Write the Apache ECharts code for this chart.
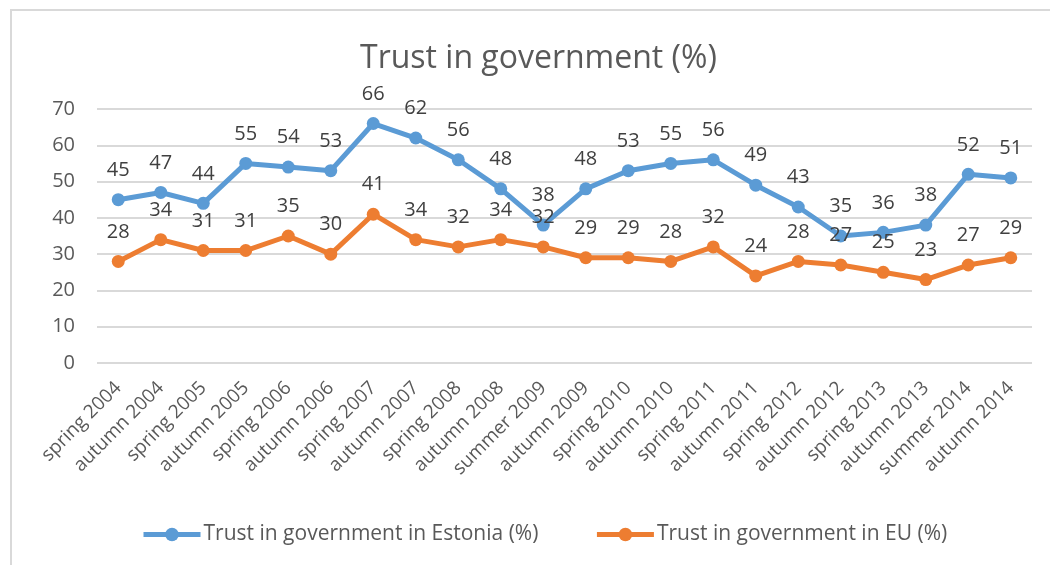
<!DOCTYPE html>
<html>
<head>
<meta charset="utf-8">
<script src="https://cdn.jsdelivr.net/npm/echarts@6/dist/echarts.min.js"></script>
<style>
  html, body { margin: 0; padding: 0; background: #ffffff; }
  #chart { width: 1050px; height: 565px; }
</style>
</head>
<body>
<div id="chart"></div>
<script>
// Survey waves
const categories = [
  'spring 2004', 'autumn 2004', 'spring 2005', 'autumn 2005', 'spring 2006',
  'autumn 2006', 'spring 2007', 'autumn 2007', 'spring 2008', 'autumn 2008',
  'summer 2009', 'autumn 2009', 'spring 2010', 'autumn 2010', 'spring 2011',
  'autumn 2011', 'spring 2012', 'autumn 2012', 'spring 2013', 'autumn 2013',
  'summer 2014', 'autumn 2014'
];

// Trust in government, percent
const estonia = [45, 47, 44, 55, 54, 53, 66, 62, 56, 48, 38, 48, 53, 55, 56, 49, 43, 35, 36, 38, 52, 51];
const eu = [28, 34, 31, 31, 35, 30, 41, 34, 32, 34, 32, 29, 29, 28, 32, 24, 28, 27, 25, 23, 27, 29];

const seriesNames = ['Trust in government in Estonia (%)', 'Trust in government in EU (%)'];
const yTicks = { min: 0, max: 70, interval: 10 };

const FONT = '"Open Sans", "Liberation Sans", sans-serif';
const TEXT = '#595959';
const COLORS = ['#5b9bd5', '#ed7d31'];

const chart = echarts.init(document.getElementById('chart'), null, { renderer: 'canvas' });

function lineSeries(name, values, color) {
  return {
    name: name,
    type: 'line',
    data: values,
    symbol: 'circle',
    symbolSize: 13,
    lineStyle: { width: 5, color: color },
    itemStyle: { color: color },
    label: {
      show: true,
      position: 'top',
      distance: 13,
      color: '#404040',
      fontSize: 20,
      fontFamily: FONT
    },
    z: 3
  };
}

chart.setOption({
  backgroundColor: '#ffffff',
  animation: false,
  title: {
    text: 'Trust in government (%)',
    left: 355,
    top: 38,
    textStyle: { fontFamily: FONT, fontSize: 32, fontWeight: 'normal', color: TEXT }
  },
  graphic: [
    { type: 'line', shape: { x1: 10, y1: 10, x2: 1050, y2: 10 }, style: { stroke: '#d9d9d9', lineWidth: 2 } },
    { type: 'line', shape: { x1: 11, y1: 10, x2: 11, y2: 565 }, style: { stroke: '#d9d9d9', lineWidth: 2 } }
  ],
  legend: {
    bottom: 15,
    left: 136,
    itemWidth: 57,
    itemHeight: 17,
    itemGap: 56,
    lineStyle: { width: 5 },
    textStyle: { fontFamily: FONT, fontSize: 21, color: TEXT, padding: [0, 0, 0, -2] },
    data: seriesNames.map((n, i) => ({
      name: n,
      lineStyle: { width: 5, color: COLORS[i] },
      itemStyle: { color: COLORS[i] }
    }))
  },
  grid: { left: 97, right: 18, top: 109, bottom: 202 },
  xAxis: {
    type: 'category',
    data: categories,
    boundaryGap: true,
    axisLine: { show: false },
    axisTick: { show: false },
    axisLabel: {
      rotate: 45,
      interval: 0,
      margin: 22,
      fontFamily: FONT,
      fontSize: 19,
      color: TEXT
    }
  },
  yAxis: {
    type: 'value',
    min: yTicks.min,
    max: yTicks.max,
    interval: yTicks.interval,
    axisLine: { show: false },
    axisTick: { show: false },
    axisLabel: { fontFamily: FONT, fontSize: 20, color: TEXT, margin: 22 },
    splitLine: { lineStyle: { color: '#d9d9d9', width: 2 } }
  },
  series: [
    lineSeries(seriesNames[0], estonia, COLORS[0]),
    lineSeries(seriesNames[1], eu, COLORS[1])
  ]
});
</script>
</body>
</html>
